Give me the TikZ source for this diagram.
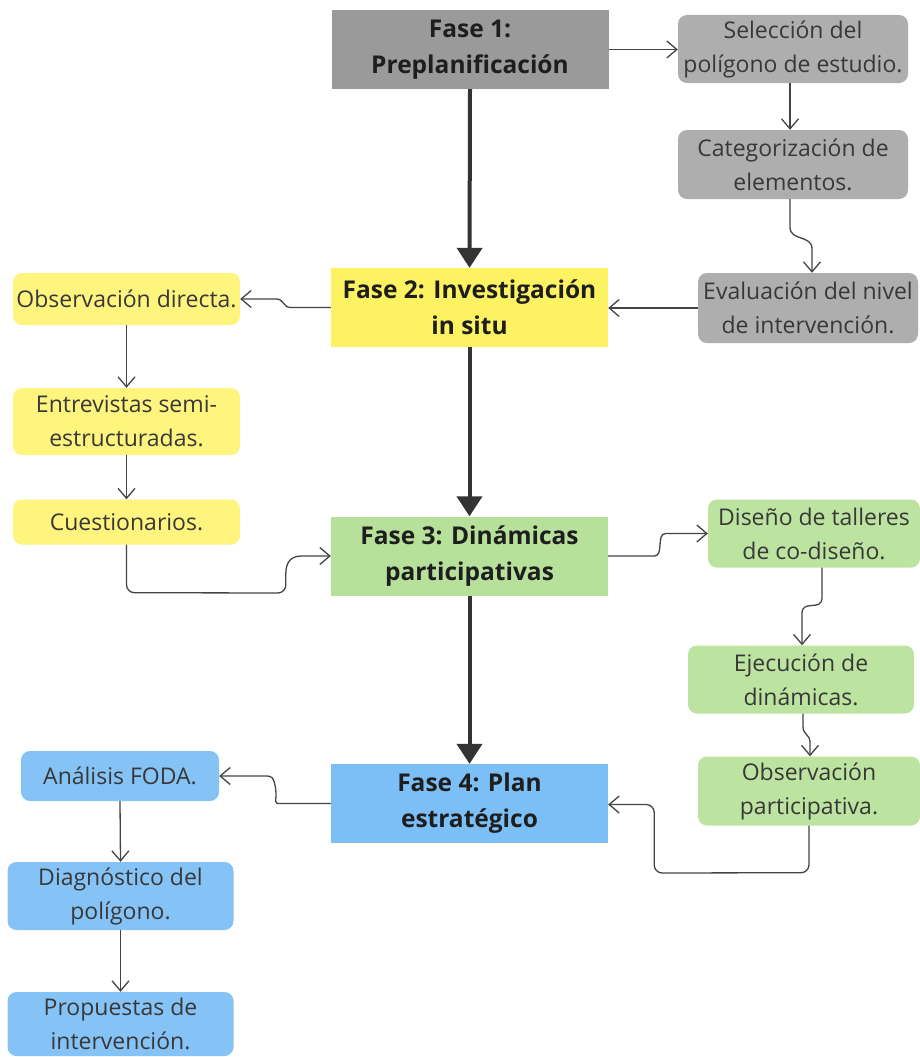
\documentclass[tikz,border=0pt]{standalone}
\usepackage{fontspec}
\setmainfont{Open Sans}
\usetikzlibrary{arrows.meta,calc}
\definecolor{grayP}{HTML}{9A9A9A}
\definecolor{grayS}{HTML}{AEAEAE}
\definecolor{yelP}{HTML}{FDF261}
\definecolor{yelS}{HTML}{FEF47E}
\definecolor{grnP}{HTML}{B7E09B}
\definecolor{grnS}{HTML}{BCE3A0}
\definecolor{bluP}{HTML}{7CBFF6}
\definecolor{bluS}{HTML}{85C3F6}
\definecolor{txtdark}{HTML}{1E1E1E}
\definecolor{txtside}{HTML}{383838}
\definecolor{lineclr}{HTML}{444444}
\definecolor{mainclr}{HTML}{333333}
\begin{document}
\begin{tikzpicture}[x=1pt,y=-1pt,
  phase/.style={minimum width=277pt, minimum height=79pt, inner sep=0pt, align=center,
    font=\fontsize{24.5}{36}\selectfont\bfseries, text=txtdark},
  side/.style={rounded corners=9pt, inner sep=0pt, align=center,
    font=\fontsize{23}{34}\selectfont, text=txtside},
  conn/.style={draw=lineclr, line width=1.3pt,
    -{Straight Barb[length=10pt,width=17pt,line width=1.3pt]}},
  mainarrow/.style={draw=mainclr, line width=4pt, -{Triangle[length=20pt,width=25pt]}}]
\useasboundingbox (0,0) rectangle (920,1057);
\fill[white] (0,0) rectangle (920,1057);

% phase boxes
\node[phase, fill=grayP] (f1) at (470,49.5) {Fase 1:\\Preplanificación};
\node[phase, fill=yelP] (f2) at (469.5,307.5) {Fase 2: Investigación\\in situ};
\node[phase, fill=grnP] (f3) at (469.5,556) {Fase 3: Dinámicas\\participativas};
\node[phase, fill=bluP] (f4) at (469.5,803.5) {Fase 4: Plan\\estratégico};

% gray side
\node[side, fill=grayS, minimum width=230pt, minimum height=68pt] (s1) at (793,49) {Selección del\\polígono de estudio.};
\node[side, fill=grayS, minimum width=230pt, minimum height=69pt] (s2) at (793,164.5) {Categorización de\\elementos.};
\node[side, fill=grayS, minimum width=220pt, minimum height=70pt] (s3) at (808,308) {Evaluación del nivel\\de intervención.};

% yellow side
\node[side, fill=yelS, minimum width=227pt, minimum height=52pt] (y1) at (126.5,299) {Observación directa.};
\node[side, fill=yelS, minimum width=227pt, minimum height=67pt] (y2) at (126.5,421.5) {Entrevistas semi-\\estructuradas.};
\node[side, fill=yelS, minimum width=227pt, minimum height=45pt] (y3) at (126.5,522) {Cuestionarios.};

% green side
\node[side, fill=grnS, minimum width=212pt, minimum height=68pt] (g1) at (814,533.5) {Diseño de talleres\\de co-diseño.};
\node[side, fill=grnS, minimum width=226pt, minimum height=68pt] (g2) at (801,679.5) {Ejecución de\\dinámicas.};
\node[side, fill=grnS, minimum width=222pt, minimum height=69pt] (g3) at (809,791) {Observación\\participativa.};

% blue side
\node[side, fill=bluS, minimum width=198pt, minimum height=50pt] (b1) at (120,776) {Análisis FODA.};
\node[side, fill=bluS, minimum width=226pt, minimum height=68pt] (b2) at (120.5,896) {Diagnóstico del\\polígono.};
\node[side, fill=bluS, minimum width=226pt, minimum height=64pt] (b3) at (120.5,1024) {Propuestas de\\intervención.};

% main arrows
\draw[mainarrow] (f1.south) -- (f2.north);
\draw[mainarrow] (f2.south) -- (f3.north);
\draw[mainarrow] (f3.south) -- (f4.north);

% gray connectors
\draw[conn] (f1.east) -- (s1.west |- f1.east);
\draw[conn] ($(s1.south)+(-3,0)$) -- ($(s2.north)+(-3,0)$);
\draw[conn] ($(s2.south)+(-3,0)$) -- ++(0,28) .. controls +(0,14) and +(0,-14) .. ($(s3.north)+(4,-24)$) -- ($(s3.north)+(4,0)$);
\draw[conn] (s3.west) -- (f2.east |- s3.west);

% yellow connectors
\draw[conn] (f2.west) -- ++(-40,0) .. controls +(-8,0) and +(8,0) .. ($(y1.east)+(36,0)$) -- (y1.east);
\draw[conn] (y1.south) -- (y2.north);
\draw[conn] (y2.south) -- (y3.north);
\coordinate (q1) at ($(y3.south)+(0,48)$);
\coordinate (q2) at ($(f3.west)+(-45,37)$);
\coordinate (q3) at ($(f3.west)+(-45,18)$);
\draw[conn] (y3.south) [rounded corners=8pt] -- (q1) -- (q2) [sharp corners] -- (q3) .. controls +(0,-13) and +(-10,0) .. ($(f3.west)+(-29,0)$) -- (f3.west);

% green connectors
\draw[conn] (f3.east) -- ++(46,0) .. controls +(10,0) and +(-10,0) .. ($(g1.west)+(-42,0)$) -- (g1.west);
\draw[conn] ($(g1.south)+(8,0)$) -- ++(0,30) .. controls +(0,14) and +(0,-14) .. ($(g2.north)+(1,-32)$) -- ($(g2.north)+(1,0)$);
\draw[conn] ($(g2.south)+(2,0)$) -- ++(0,13) .. controls +(0,8) and +(0,-8) .. ($(g3.north)+(1,-14)$) -- ($(g3.north)+(1,0)$);
\coordinate (r1) at ($(g3.south)+(0,47)$);
\coordinate (r2) at ($(f4.east)+(46,69.5)$);
\coordinate (r3) at ($(f4.east)+(46,1)$);
\draw[conn, rounded corners=8pt] (g3.south) -- (r1) -- (r2) -- (r3) -- ($(f4.east)+(0,1)$);

% blue connectors
\draw[conn] (f4.west) -- ++(-48,0) .. controls +(-12,0) and +(3,18) .. ($(b1.east)+(56,10)$) .. controls +(-2,-8) and +(8,0) .. ($(b1.east)+(46,0)$) -- (b1.east);
\draw[conn] (b1.south) -- (b2.north);
\draw[conn] (b2.south) -- (b3.north);
\end{tikzpicture}
\end{document}
